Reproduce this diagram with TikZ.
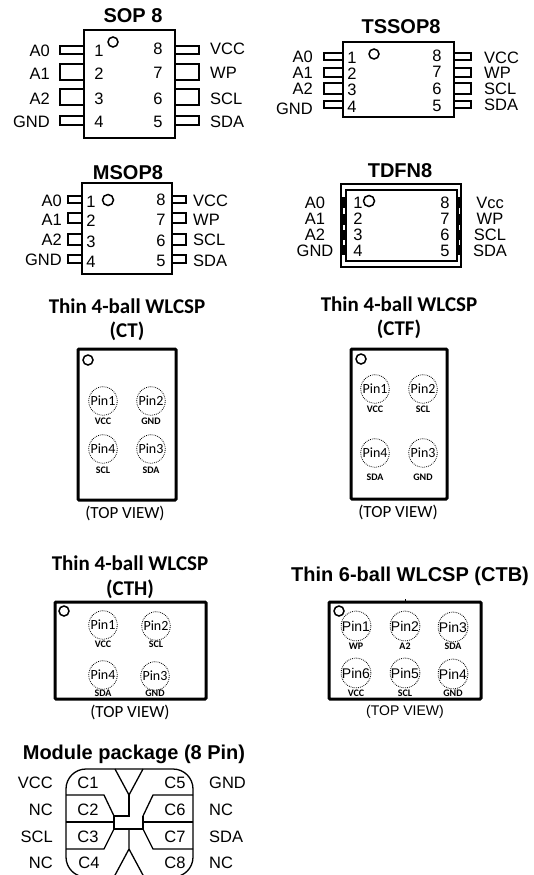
\documentclass[tikz,border=0pt]{standalone}
\usepackage{fontspec}
\setmainfont{Liberation Sans}
\newfontfamily\carlito{Carlito}
\tikzset{
  pkgtitle/.style={font=\fontsize{20}{22}\selectfont\bfseries, inner sep=0pt, yshift=-1pt},
  wlctitle/.style={font=\carlito\fontsize{21}{24}\selectfont\bfseries, inner sep=0pt},
  pinname/.style={font=\fontsize{16.5}{18}\selectfont, inner sep=0pt, yshift=-.7pt},
  topview/.style={font=\carlito\fontsize{17}{20}\selectfont, inner sep=0pt},
  pkgbox/.style={draw, line width=1.3pt},
  pinlead/.style={draw, line width=1.3pt},
  pinmark/.style={draw, line width=1.5pt},
  wlcbox/.style={draw, line width=3pt, rounded corners=1pt},
  ballpin/.style={draw, circle, dash pattern=on .8pt off 1.1pt, line width=.8pt, minimum size=28.5pt, inner sep=0pt, font=\carlito\fontsize{14}{15}\selectfont},
  ballname/.style={font=\carlito\fontsize{10}{11}\selectfont\bfseries, inner sep=0pt}
}

\begin{document}
\begin{tikzpicture}[x=1pt, y=-1pt]
\useasboundingbox (0,0) rectangle (534,875);

%SOP 8
\node[pkgtitle] (soptitle) at (133,15) {SOP 8};
\draw[pkgbox] (84,30) rectangle (175,138);
\draw[pinmark] (113,42) circle (5);
\foreach \a/\b in {46/54, 64/80, 89/105, 116/125}{
  \draw[pinlead] (84,\a) -- (60,\a) -- (60,\b) -- (84,\b);
  \draw[pinlead] (175,\a) -- (199,\a) -- (199,\b) -- (175,\b);
}
\foreach \y/\num/\txt in {50/1/A0, 73/2/A1, 98/3/A2, 121/4/GND}{
  \node[pinname] (sopn\num) at (99,\y) {\num};
  \node[pinname, anchor=east] (sopl\num) at (50,\y) {\txt};
}
\foreach \y/\num/\txt in {48/8/VCC, 72/7/WP, 98/6/SCL, 121/5/SDA}{
  \node[pinname] (sopn\num) at (158,\y) {\num};
  \node[pinname, anchor=west] (sopl\num) at (210,\y) {\txt};
}

%TSSOP8
\node[pkgtitle] (tssoptitle) at (401,26) {TSSOP8};
\draw[pkgbox] (343,42) rectangle (454,117);
\draw[pinmark] (374,54) circle (5);
\foreach \a/\b in {53/60, 68/77, 83/94, 101/108}{
  \draw[pinlead] (343,\a) -- (324,\a) -- (324,\b) -- (343,\b);
  \draw[pinlead] (454,\a) -- (471,\a) -- (471,\b) -- (454,\b);
}
\foreach \y/\yy/\num/\txt in {57/56.5/1/A0, 73/72/2/A1, 89/88/3/A2, 106/108/4/GND}{
  \node[pinname] (tssopn\num) at (352,\y) {\num};
  \node[pinname, anchor=east] (tssopl\num) at (313,\yy) {\txt};
}
\foreach \y/\yy/\num/\txt in {55/57/8/VCC, 71/72/7/WP, 88/88/6/SCL, 105/104/5/SDA}{
  \node[pinname] (tssopn\num) at (437,\y) {\num};
  \node[pinname, anchor=west] (tssopl\num) at (484,\yy) {\txt};
}

%MSOP8
\node[pkgtitle] (msoptitle) at (128,172) {MSOP8};
\draw[pkgbox] (82,183) rectangle (172,274);
\draw[pinmark] (108,200) circle (5.5);
\foreach \a/\b in {196/203, 213/223, 234/245, 255/263}{
  \draw[pinlead] (82,\a) -- (68,\a) -- (68,\b) -- (82,\b);
  \draw[pinlead] (172,\a) -- (186,\a) -- (186,\b) -- (172,\b);
}
\foreach \y/\yy/\num/\txt in {201/200/1/A0, 220/219/2/A1, 241/239/3/A2, 261/259/4/GND}{
  \node[pinname] (msopn\num) at (91,\y) {\num};
  \node[pinname, anchor=east] (msopl\num) at (62,\yy) {\txt};
}
\foreach \y/\yy/\num/\txt in {199/200/8/VCC, 219/219/7/WP, 240/239/6/SCL, 260/260/5/SDA}{
  \node[pinname] (msopn\num) at (161,\y) {\num};
  \node[pinname, anchor=west] (msopl\num) at (193,\yy) {\txt};
}

%TDFN8
\node[pkgtitle] (tdfntitle) at (400,170) {TDFN8};
\draw[pkgbox] (341,184) rectangle (461,267);
\draw[pkgbox] (346,190) rectangle (457,261);
\fill (341,197) rectangle (346,255);
\fill (457,197) rectangle (461,255);
\foreach \a/\b in {208/214, 225/230, 240/245}{
  \fill[white] (343,\a) rectangle (344.5,\b);
  \fill[white] (458.5,\a) rectangle (460,\b);
}
\draw[pinmark] (369,201) circle (5.5);
\foreach \y/\num/\txt in {202/1/A0, 218/2/A1, 234/3/A2, 250/4/GND}{
  \node[pinname] (tdfnn\num) at (358,\y) {\num};
  \node[pinname] (tdfnl\num) at (315,\y) {\txt};
}
\foreach \y/\num/\txt in {202/8/Vcc, 218/7/WP, 234/6/SCL, 250/5/SDA}{
  \node[pinname] (tdfnn\num) at (445,\y) {\num};
  \node[pinname] (tdfnl\num) at (490,\y) {\txt};
}

%Thin 4-ball CT
\node[wlctitle] (cttitle) at (127,306) {Thin 4-ball WLCSP};
\node[wlctitle] (cttitleb) at (127,331) {(CT)};
\draw[wlcbox] (78,349) rectangle (176,500);
\draw[pinmark] (88,360) circle (5);
\foreach \x/\y/\num/\ly/\txt in {103/401/1/421/VCC, 151/401/2/421/GND, 103/449/4/470/SCL, 151/449/3/470/SDA}{
  \node[ballpin] (ctp\num) at (\x,\y) {Pin\num};
  \node[ballname] (ctl\num) at (\x,\ly) {\txt};
}
\node[topview] (ctview) at (125,513) {(TOP VIEW)};

%Thin 4-ball CTF
\node[wlctitle] (ctftitle) at (399,304) {Thin 4-ball WLCSP};
\node[wlctitle] (ctftitleb) at (399,329) {(CTF)};
\draw[wlcbox] (351,349) rectangle (447,499);
\draw[pinmark] (361,359) circle (5);
\foreach \x/\y/\num/\ly/\txt in {375/389/1/409/VCC, 423/389/2/409/SCL, 375/453/4/477/SDA, 423/453/3/477/GND}{
  \node[ballpin] (ctfp\num) at (\x,\y) {Pin\num};
  \node[ballname] (ctfl\num) at (\x,\ly) {\txt};
}
\node[topview] (ctfview) at (398,512) {(TOP VIEW)};

%Thin 4-ball CTH
\node[wlctitle] (cthtitle) at (130,563) {Thin 4-ball WLCSP};
\node[wlctitle] (cthtitleb) at (130,589) {(CTH)};
\draw[wlcbox] (55,602) rectangle (206,699);
\draw[pinmark] (64,611) circle (5);
\foreach \x/\y/\num/\ly/\txt in {103/625/1/644/VCC, 156/626/2/644/SCL, 103/675/4/693/SDA, 155/676/3/693/GND}{
  \node[ballpin] (cthp\num) at (\x,\y) {Pin\num};
  \node[ballname] (cthl\num) at (\x,\ly) {\txt};
}
\node[topview] (cthview) at (130,712) {(TOP VIEW)};

%Thin 6-ball CTB
\node[pkgtitle] (ctbtitle) at (410,575) {Thin 6-ball WLCSP (CTB)};
\draw[wlcbox] (329,602) rectangle (481,699);
\draw[line width=.5pt] (405,599) -- (405,601);
\draw[pinmark] (339,611) circle (5);
\foreach \x/\y/\num/\ly/\txt in {356/626/1/646/WP, 405/626/2/646/A2, 453/627/3/646/SDA, 356/673/6/693/VCC, 405/673/5/693/SCL, 453/674/4/693/GND}{
  \node[ballpin, font=\fontsize{14}{15}\selectfont] (ctbp\num) at (\x,\y) {Pin\num};
  \node[ballname] (ctbl\num) at (\x,\ly) {\txt};
}
\node[font=\fontsize{14}{16}\selectfont, inner sep=0pt] (ctbview) at (405,712) {(TOP VIEW)};

%Module package
\node[pkgtitle] (modtitle) at (134,753) {Module package (8 Pin)};
\draw[pkgbox] (66,795) -- (66,789) to[out=90,in=180] (86,769) -- (173,769) to[out=0,in=90] (193,789)
  -- (193,857) to[out=-90,in=0] (173,877) -- (86,877) to[out=180,in=-90] (66,857) -- cycle;
\draw[pinlead] (115,769) -- (129,795) -- (143,769);
\draw[pinlead] (129,795) -- (129,816) -- (114,816) -- (114,829) -- (143,829) -- (143,816);
\draw[pinlead] (66,795) -- (104,795) -- (114,816);
\draw[pinlead] (66,822) -- (114,822);
\draw[pinlead] (66,849) -- (104,849) -- (114,829);
\draw[pinlead] (193,795) -- (153,795) -- (143,816);
\draw[pinlead] (193,822) -- (143,822);
\draw[pinlead] (193,849) -- (153,849) -- (143,829);
\draw[pinlead] (129,829) -- (129,849) -- (114,877);
\draw[pinlead] (129,849) -- (144,877);
\foreach \y/\num/\txt/\lx in {782/1/VCC/88, 809/2/NC/88, 836/3/SCL/88, 862/4/NC/89}{
  \node[pinname] (modc\num) at (\lx,\y) {C\num};
  \node[pinname, anchor=east] (modl\num) at (53,\y) {\txt};
}
\foreach \y/\num/\txt in {782/5/GND, 809/6/NC, 836/7/SDA, 862/8/NC}{
  \node[pinname] (modc\num) at (175,\y) {C\num};
  \node[pinname, anchor=west] (modl\num) at (209,\y) {\txt};
}

\end{tikzpicture}
\end{document}
